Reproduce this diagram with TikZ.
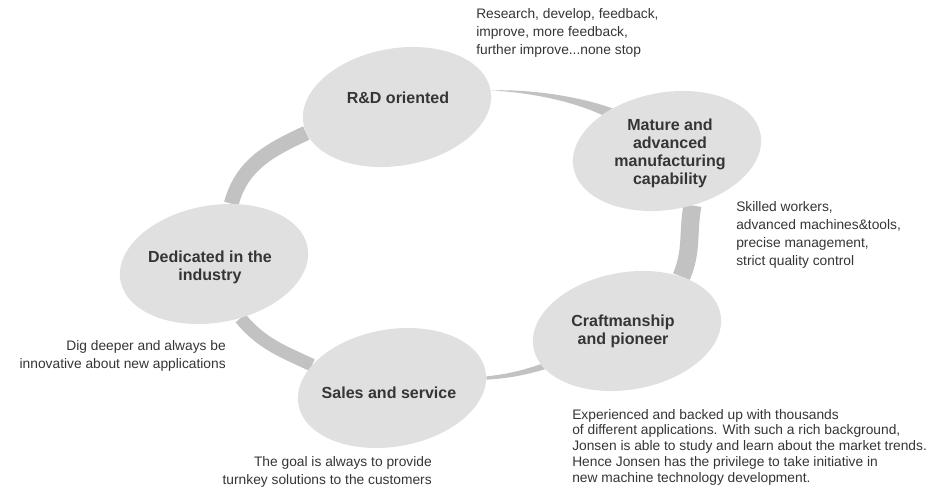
\documentclass[tikz,border=0pt]{standalone}
\usepackage{fontspec}
\setmainfont{Liberation Sans}
\usepackage{xcolor}
\usepackage{tikz}
\usetikzlibrary{shapes.geometric,backgrounds}
\definecolor{blobgray}{HTML}{E0E0E0}
\definecolor{bandgray}{HTML}{C2C2C2}
\definecolor{inkgray}{HTML}{353535}

\begin{document}
\begin{tikzpicture}[
    blob/.style={ellipse, fill=blobgray, minimum width=4.75cm, minimum height=2.93cm, inner sep=0pt, rotate=10},
    title/.style={align=center, text=inkgray, font=\bfseries\fontsize{11.4}{12.8}\selectfont},
    note/.style={inner sep=0pt, text=inkgray, font=\fontsize{9.8}{12.8}\selectfont},
    band/.style={draw=bandgray, line cap=butt}
  ]
      \useasboundingbox (0,0) rectangle (23.725,-12.475);
      \node[blob] (rd) at (9.925,-2.675) {};
      \node[blob] (mature) at (16.675,-3.775) {};
      \node[blob] (craft) at (15.675,-8.275) {};
      \node[blob] (sales) at (9.8,-9.7) {};
      \node[blob] (dedic) at (5.35,-6.6) {};
        % titles
      \node[title] (rdtxt) at (9.95,-2.45) {R\&D oriented};
      \node[title] (maturetxt) at (16.75,-3.825) {Mature and\\advanced\\manufacturing\\capability};
      \node[title] (crafttxt) at (15.575,-8.275) {Craftmanship\\and pioneer};
      \node[title] (salestxt) at (9.725,-9.825) {Sales and service};
      \node[title] (dedictxt) at (5.25,-6.675) {Dedicated in the\\industry};
        % notes
      \node[note, anchor=west, align=left] (rdnote) at (11.9,-0.8125) {Research, develop, feedback,\\improve, more feedback,\\further improve...none stop};
      \node[note, anchor=west, align=left] (maturenote) at (18.4,-5.8625) {Skilled workers,\\advanced machines\&tools,\\precise management,\\strict quality control};
      \node[note, anchor=west, align=left, font=\fontsize{9.8}{11.2}\selectfont] (craftnote) at (14.3,-11.175) {Experienced and backed up with thousands\\of different applications. With such a rich background,\\Jonsen is able to study and learn about the market trends.\\Hence Jonsen has the privilege to take initiative in\\new machine technology development.};
      \node[note, anchor=east, align=right] (salesnote) at (10.8,-11.7875) {The goal is always to provide\\turnkey solutions to the customers};
      \node[note, anchor=east, align=right] (dedicnote) at (5.65,-8.8875) {Dig deeper and always be\\innovative about new applications};
      \begin{pgfonlayer}{background}
      \fill[bandgray] (rd.0) .. controls (13.125,-2.225) and (14.375,-2.375) .. (mature.132)
        -- (mature.141) .. controls (14.25,-2.5) and (13.125,-2.3) .. (rd.0) -- cycle;
      \draw[band, line width=0.45cm] (mature.-75) to[out=-100, in=67] (craft.35);
      \fill[bandgray] (craft.191) to[bend left=6] (sales.-3.5) -- (sales.-5) to[bend right=6] (craft.195.5) -- cycle;
      \draw[band, line width=0.32cm] (sales.154) to[out=155, in=-50] (dedic.-74);
      \draw[band, line width=0.37cm] (dedic.64) to[out=75, in=-155] (rd.186);
      \end{pgfonlayer}
    \end{tikzpicture}
\end{document}
